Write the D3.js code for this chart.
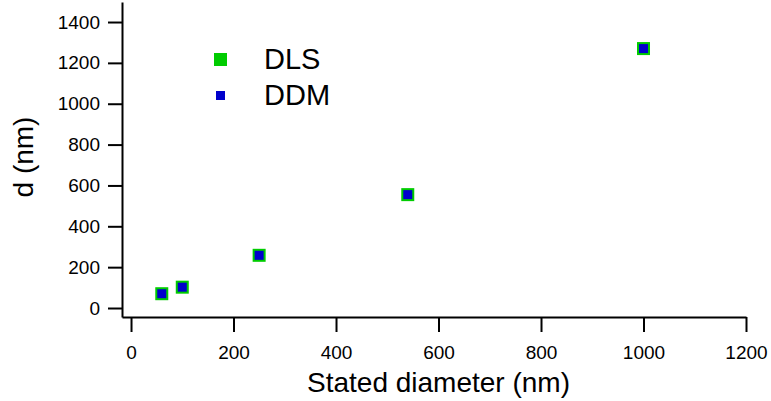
<!DOCTYPE html>
<html>
<head>
<meta charset="utf-8">
<script src="https://cdn.jsdelivr.net/npm/d3@7"></script>
<style>
  body { margin: 0; background: #fff; }
  svg { display: block; font-family: "Liberation Sans", Arial, sans-serif; }
</style>
</head>
<body>
<div id="root"></div>
<script>
"use strict";

const statedDiameter = [60, 100, 250, 540, 1000];
const dlsValues = [70, 102, 258, 555, 1270];
const ddmValues = [70, 102, 258, 555, 1270];
const xTicks = [0, 200, 400, 600, 800, 1000, 1200];
const yTicks = [0, 200, 400, 600, 800, 1000, 1200, 1400];

const width = 771;
const height = 401;
const colors = {
  dls: "#00cc00",
  ddm: "#0000cc",
};

const ScaleX = d3.scaleLinear().domain([-17.6, 1200]).range([122, 746]);
const ScaleY = d3.scaleLinear().domain([-44, 1498]).range([317, 2]);

const svg = d3
  .select("#root")
  .append("svg")
  .attr("width", width)
  .attr("height", height);

const xAxis = d3
  .axisBottom(ScaleX)
  .tickValues(xTicks)
  .tickFormat(d3.format("d"))
  .tickSize(15)
  .tickSizeOuter(0)
  .tickPadding(14);
const gx = svg
  .append("g")
  .attr("transform", "translate(0, 317)")
  .call(xAxis);

const yAxis = d3
  .axisLeft(ScaleY)
  .tickValues(yTicks)
  .tickFormat(d3.format("d"))
  .tickSize(14)
  .tickSizeOuter(0)
  .tickPadding(8);
const gy = svg
  .append("g")
  .attr("transform", "translate(122, 0)")
  .call(yAxis);

[gx, gy].forEach((g) => {
  g.selectAll("path, line").attr("stroke", "#000").attr("stroke-width", 2);
  g.selectAll("text").attr("fill", "#000").style("font-size", "19px");
});

svg
  .append("text")
  .attr("x", 438.5)
  .attr("y", 392)
  .attr("text-anchor", "middle")
  .style("font-size", "28px")
  .text("Stated diameter (nm)");

svg
  .append("text")
  .attr("transform", "translate(33, 157) rotate(-90)")
  .attr("text-anchor", "middle")
  .style("font-size", "28px")
  .text("d (nm)");

const points = statedDiameter.map((d, i) => ({ x: d, dls: dlsValues[i], ddm: ddmValues[i] }));

const dlsSize = 13;
const ddmSize = 9;

svg
  .selectAll("rect.dls")
  .data(points)
  .enter()
  .append("rect")
  .attr("class", "dls")
  .attr("x", (d) => ScaleX(d.x) - dlsSize / 2)
  .attr("y", (d) => ScaleY(d.dls) - dlsSize / 2)
  .attr("width", dlsSize)
  .attr("height", dlsSize)
  .attr("fill", colors.dls);

svg
  .selectAll("rect.ddm")
  .data(points)
  .enter()
  .append("rect")
  .attr("class", "ddm")
  .attr("x", (d) => ScaleX(d.x) - ddmSize / 2)
  .attr("y", (d) => ScaleY(d.ddm) - ddmSize / 2)
  .attr("width", ddmSize)
  .attr("height", ddmSize)
  .attr("fill", colors.ddm);

// legend
const legend = [
  { label: "DLS", color: colors.dls, size: dlsSize, y: 59.5 },
  { label: "DDM", color: colors.ddm, size: ddmSize, y: 95.5 },
];

legend.forEach((l) => {
  svg
    .append("rect")
    .attr("x", 220.5 - l.size / 2)
    .attr("y", l.y - l.size / 2)
    .attr("width", l.size)
    .attr("height", l.size)
    .attr("fill", l.color);
  svg
    .append("text")
    .attr("x", 264)
    .attr("y", l.y + 9)
    .style("font-size", "29px")
    .text(l.label);
});
</script>
</body>
</html>
